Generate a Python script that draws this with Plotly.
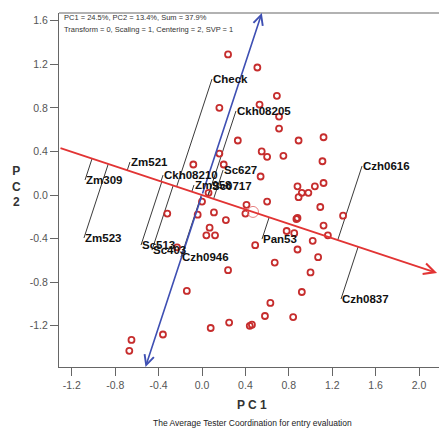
import numpy as np
import plotly.graph_objects as go

# ---------------- data ----------------
entry_x = [0.24, 0.51, 0.16, 0.69, 0.53, 0.71, 0.71, 0.33, 0.89, 1.12,
           0.55, 0.60, 0.75, 1.11, 0.16, 0.20, 0.54, 0.88, 1.04, 1.12,
           0.92, 0.98, 0.89, 0.60, 0.41, 0.40, 1.09, 0.88, 0.87, 1.30,
           0.11, 0.22, 1.12, 0.07, 0.04, 0.12, 0.78, 0.85, 1.16, 1.02,
           0.49, 0.88, 1.07, 0.67, 0.24, 1.00, 0.92, 0.63, 0.58, 0.84,
           0.25, 0.08, 0.44, 0.46, -0.14, -0.36, -0.65, -0.67, -0.08, -0.32,
           -0.04, 0.00, 0.06, -0.23]
entry_y = [1.29, 1.17, 0.80, 0.91, 0.83, 0.72, 0.61, 0.50, 0.50, 0.53,
           0.40, 0.35, 0.36, 0.31, 0.38, 0.28, 0.17, 0.08, 0.08, 0.11,
           0.02, 0.02, -0.02, -0.06, -0.09, -0.17, -0.11, -0.21, -0.22, -0.19,
           -0.16, -0.23, -0.28, -0.30, -0.37, -0.37, -0.33, -0.35, -0.37, -0.42,
           -0.46, -0.50, -0.57, -0.62, -0.69, -0.71, -0.89, -0.99, -1.11, -1.12,
           -1.17, -1.22, -1.20, -1.19, -0.88, -1.28, -1.33, -1.43, 0.28, -0.17,
           -0.18, -0.06, 0.02, -0.48]

tester_names = ["Zm309", "Zm523", "Zm521", "Ckh08210", "Zm958", "Sc0717",
                "Sc627", "Sc513", "Sc403", "Czh0946", "Check", "Ckh08205",
                "Pan53", "Czh0616", "Czh0837"]
tester_x = [-1.078, -1.088, -0.664, -0.359, -0.074, 0.083,
            0.194, -0.562, -0.461, -0.194, 0.092, 0.313,
            0.553, 1.475, 1.281]
tester_y = [0.138, -0.394, 0.303, 0.183, 0.092, 0.083,
            0.229, -0.459, -0.505, -0.569, 1.064, 0.771,
            -0.404, 0.266, -0.954]

avg_env = [0.47, -0.155]          # average environment (tester) coordinate
atc_slope = -0.33                  # slope of the ATC abscissa

x_ticks = [-1.2, -0.8, -0.4, 0.0, 0.4, 0.8, 1.2, 1.6, 2.0]
x_tick_labels = ["-1.2", "-0.8", "-0.4", "0.0", "0.4", "0.8", "1.2", "1.6", "2.0"]
y_ticks = [-1.2, -0.8, -0.4, 0.0, 0.4, 0.8, 1.2, 1.6]
y_tick_labels = ["-1.2", "-0.8", "-0.4", "0.0", "0.4", "0.8", "1.2", "1.6"]

info_line1 = "PC1 = 24.5%, PC2 = 13.4%, Sum = 37.9%"
info_line2 = "Transform = 0, Scaling = 1, Centering = 2, SVP = 1"
caption = "The Average Tester Coordination for entry evaluation"

# ---------------- geometry ----------------
X_RANGE = [-1.318, 2.184]
Y_RANGE = [-1.578, 1.670]

u = np.array([1.0, atc_slope]); u /= np.linalg.norm(u)
v = np.array([-u[1], u[0]])        # perpendicular (ordinate)

# projection lines of testers onto ATC abscissa
lx, ly = [], []
for px, py in zip(tester_x, tester_y):
    p = np.array([px, py])
    q = (p @ u) * u
    lx += [px, q[0], None]
    ly += [py, q[1], None]

fig = go.Figure()

fig.add_trace(go.Scatter(x=lx, y=ly, mode="lines",
                         line=dict(color="#3a3a3a", width=1),
                         hoverinfo="skip", showlegend=False))

fig.add_trace(go.Scatter(x=entry_x, y=entry_y, mode="markers",
                         marker=dict(symbol="circle-open", size=6,
                                     color="#c62d2d", line=dict(width=1.8)),
                         showlegend=False))

fig.add_trace(go.Scatter(x=[avg_env[0]], y=[avg_env[1]], mode="markers",
                         marker=dict(symbol="circle-open", size=11,
                                     color="#e88080", line=dict(width=1)),
                         showlegend=False))

# ATC abscissa (red) from left edge to arrowhead at right
x_left = X_RANGE[0]
x_right = 2.166
red_col = "#e23434"
fig.add_annotation(x=x_right, y=atc_slope * x_right, ax=x_left, ay=atc_slope * x_left,
                   xref="x", yref="y", axref="x", ayref="y", text="",
                   showarrow=True, arrowhead=5, arrowsize=1.2, arrowwidth=1.8,
                   arrowcolor=red_col, standoff=0, startstandoff=0)

# ATC ordinate (blue) with arrowheads at both ends
blue_col = "#3e4fb3"
t_top = Y_RANGE[1] / v[1]
t_bot = Y_RANGE[0] / v[1]
for t in (t_top, t_bot):
    fig.add_annotation(x=v[0] * t, y=v[1] * t, ax=0, ay=0,
                       xref="x", yref="y", axref="x", ayref="y", text="",
                       showarrow=True, arrowhead=5, arrowsize=1.2, arrowwidth=1.6,
                       arrowcolor=blue_col, standoff=0, startstandoff=0)

# tester labels
for name, px, py in zip(tester_names, tester_x, tester_y):
    fig.add_annotation(x=px, y=py, text="<b>%s</b>" % name, showarrow=False,
                       xanchor="left", yanchor="middle", xshift=-1,
                       font=dict(family="Arial, Liberation Sans", size=11.5, color="#111"))

# info text top-left
fig.add_annotation(x=0, y=1, xref="paper", yref="paper", text=info_line1,
                   showarrow=False, xanchor="left", yanchor="middle", xshift=3, yshift=-4,
                   font=dict(family="Arial, Liberation Sans", size=7.5, color="#333"))
fig.add_annotation(x=0, y=1, xref="paper", yref="paper", text=info_line2,
                   showarrow=False, xanchor="left", yanchor="middle", xshift=3, yshift=-16,
                   font=dict(family="Arial, Liberation Sans", size=7.5, color="#333"))

# axis titles and caption
fig.add_annotation(x=0.508, y=-0.107, xref="paper", yref="paper", text="<b>P C 1</b>",
                   showarrow=False, xanchor="center", yanchor="middle",
                   font=dict(family="Arial, Liberation Sans", size=12, color="#333"))
fig.add_annotation(x=-0.113, y=0.511, xref="paper", yref="paper", text="<b>P<br>C<br>2</b>",
                   showarrow=False, xanchor="center", yanchor="middle",
                   font=dict(family="Arial, Liberation Sans", size=12, color="#333"))
fig.add_annotation(x=0.508, y=-0.158, xref="paper", yref="paper", text=caption,
                   showarrow=False, xanchor="center", yanchor="middle",
                   font=dict(family="Arial, Liberation Sans", size=8.5, color="#222"))

# top frame line
fig.add_shape(type="line", xref="paper", yref="paper", x0=0, x1=1, y0=1, y1=1,
              line=dict(color="#666", width=1.2))

axis_common = dict(showgrid=False, zeroline=False, showline=True, linecolor="#666",
                   linewidth=1.2, ticks="outside", ticklen=8, tickcolor="#666",
                   tickwidth=1.2, tickfont=dict(family="Arial, Liberation Sans",
                                                size=10.5, color="#555"))
fig.update_xaxes(range=X_RANGE, tickvals=x_ticks, ticktext=x_tick_labels, **axis_common)
fig.update_yaxes(range=Y_RANGE, tickvals=y_ticks, ticktext=y_tick_labels, **axis_common)

fig.update_layout(width=439, height=428, margin=dict(l=59, r=0, t=13, b=61),
                  plot_bgcolor="white", paper_bgcolor="white", showlegend=False)

fig.write_html("out.html", config={"displayModeBar": False},
               post_script="document.body.style.margin='0';document.body.style.overflow='hidden';")
